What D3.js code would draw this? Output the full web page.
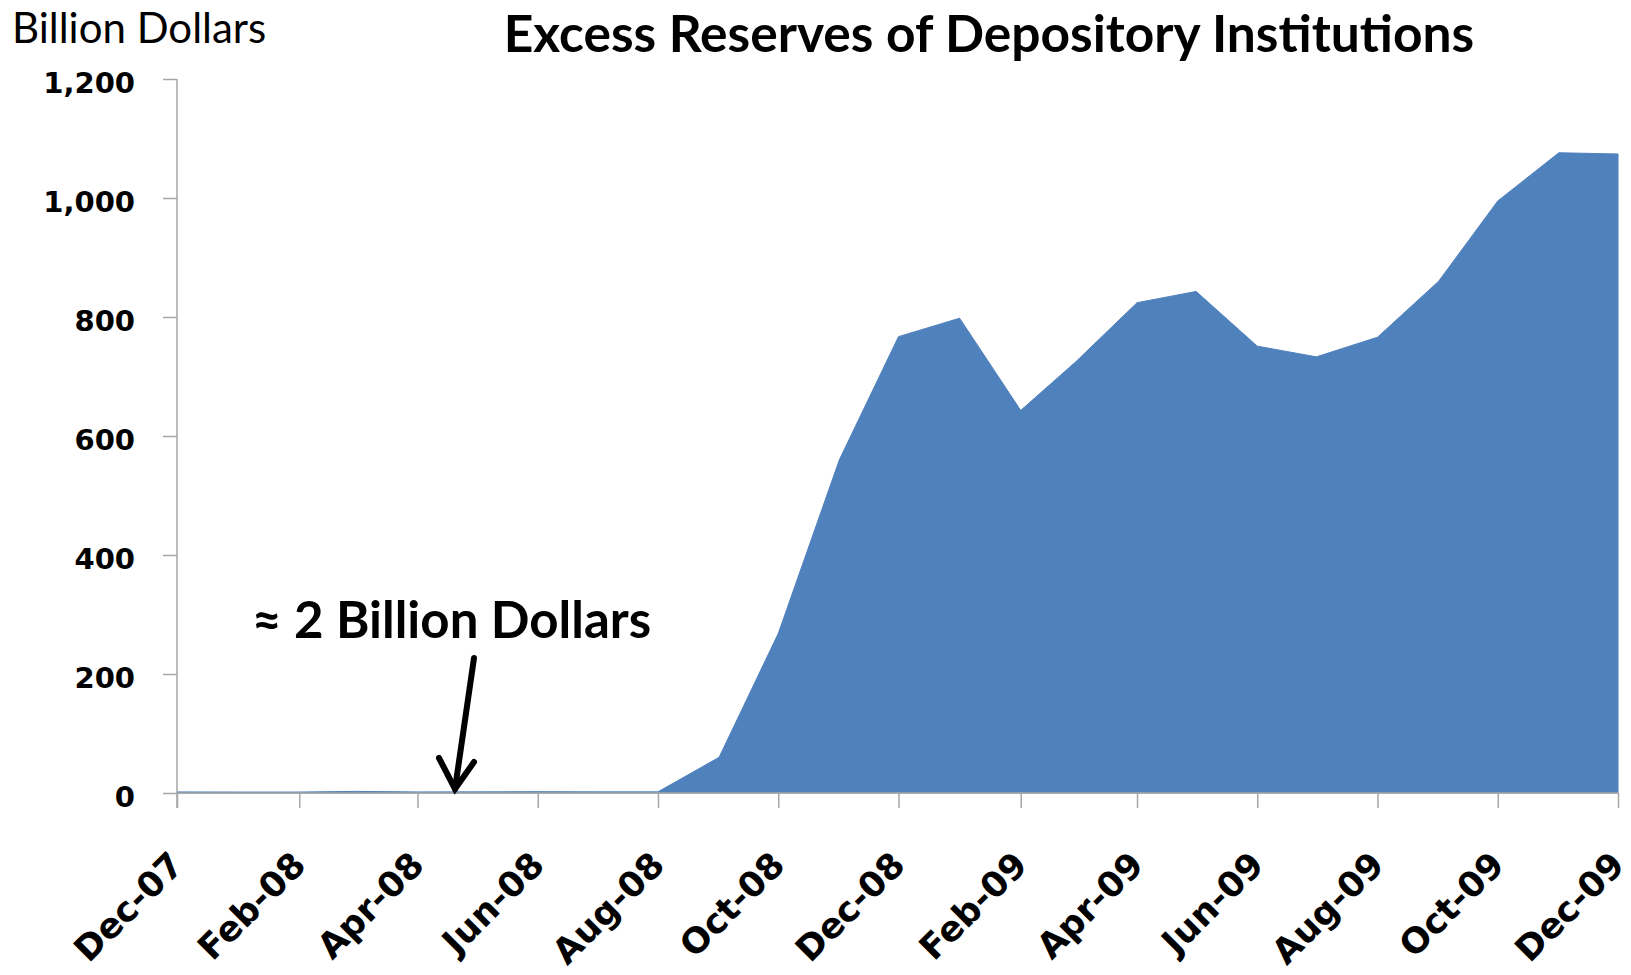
<!DOCTYPE html>
<html>
<head>
<meta charset="utf-8">
<script src="https://cdn.jsdelivr.net/npm/d3@7"></script>
<style>
  body { margin: 0; background: #fff; }
  svg text { font-family: Lato, "Open Sans", sans-serif; fill: #000; }
  .axis text { font-family: "DejaVu Sans", Verdana, sans-serif; font-weight: bold; }
</style>
</head>
<body>
<script>
var svgWidth = 1631;
var svgHeight = 975;

var margin = { top: 79, right: 13, bottom: 182, left: 177 };
var width = svgWidth - margin.left - margin.right;
var height = svgHeight - margin.top - margin.bottom;

// monthly observations, Dec-07 .. Dec-09
var months = ["2007-12","2008-01","2008-02","2008-03","2008-04","2008-05","2008-06","2008-07","2008-08",
  "2008-09","2008-10","2008-11","2008-12","2009-01","2009-02","2009-03","2009-04","2009-05","2009-06",
  "2009-07","2009-08","2009-09","2009-10","2009-11","2009-12"];
var reserves = [1.8, 1.6, 1.6, 2.7, 1.8, 1.9, 2.2, 1.9, 1.9,
  60, 268, 560, 767, 798, 643, 725, 824, 843, 751,
  733, 766, 860, 995, 1076, 1074];
var yTicks = [0, 200, 400, 600, 800, 1000, 1200];

var parseMonth = d3.timeParse("%Y-%m");
var data = months.map(function(m, i) {
  return { date: parseMonth(m), value: reserves[i] };
});
// a label every second month, starting at Dec-07
var xTicks = data.filter((d, i) => i % 2 === 0).map(d => d.date);

var svg = d3.select("body").append("svg")
  .attr("width", svgWidth)
  .attr("height", svgHeight);

var chartGroup = svg.append("g")
  .attr("transform", `translate(${margin.left}, ${margin.top})`);

var x = d3.scaleTime()
  .domain(d3.extent(data, d => d.date))
  .range([0, width]);
var y = d3.scaleLinear().domain([0, 1200]).range([height, 0]);

// area
var area = d3.area()
  .x(d => x(d.date))
  .y0(y(0))
  .y1(d => y(d.value));

chartGroup.append("path")
  .datum(data)
  .attr("d", area)
  .attr("fill", "#4f81bd")
  .attr("stroke", "#4f81bd")
  .attr("stroke-width", 1);

// axes
var leftAxis = d3.axisLeft(y)
  .tickValues(yTicks)
  .tickSize(14)
  .tickPadding(28)
  .tickFormat(d3.format(","));

var bottomAxis = d3.axisBottom(x)
  .tickValues(xTicks)
  .tickSize(15)
  .tickFormat(d3.timeFormat("%b-%y"));

var gy = chartGroup.append("g").attr("class", "axis").call(leftAxis);
gy.select(".domain").attr("stroke", "#a6a6a6").attr("stroke-width", 1.5)
  .attr("d", `M0,0V${height + 15}`);
gy.selectAll(".tick line").attr("stroke", "#a6a6a6").attr("stroke-width", 1.5);
gy.selectAll(".tick text")
  .style("font-size", "29px")
  .attr("dy", "0.46em");

var gx = chartGroup.append("g")
  .attr("class", "axis")
  .attr("transform", `translate(0, ${height})`)
  .call(bottomAxis);
gx.select(".domain").attr("stroke", "#a6a6a6").attr("stroke-width", 1.5)
  .attr("d", `M0,0H${width}`);
gx.selectAll(".tick line").attr("stroke", "#a6a6a6").attr("stroke-width", 1.5);
gx.selectAll(".tick text")
  .style("font-size", "35px")
  .attr("text-anchor", "end")
  .attr("dy", null)
  .attr("y", 0)
  .attr("transform", "translate(8, 74) rotate(-45)");

// titles
svg.append("text")
  .attr("x", 989).attr("y", 52)
  .attr("text-anchor", "middle")
  .style("font-size", "51.5px").style("font-weight", "bold")
  .text("Excess Reserves of Depository Institutions");

svg.append("text")
  .attr("x", 12).attr("y", 43)
  .style("font-size", "42px")
  .text("Billion Dollars");

// annotation
svg.append("text")
  .attr("x", 252).attr("y", 638)
  .style("font-size", "51px").style("font-weight", "bold")
  .text("≈ 2 Billion Dollars");

var ax0 = 474, ay0 = 658, ax1 = 455, ay1 = 789;
svg.append("line")
  .attr("x1", ax0).attr("y1", ay0).attr("x2", ax1).attr("y2", ay1)
  .attr("stroke", "#000").attr("stroke-width", 6).attr("stroke-linecap", "round");
svg.append("path")
  .attr("d", `M${ax1 - 16},${ay1 - 31} L${ax1},${ay1} L${ax1 + 19},${ay1 - 27}`)
  .attr("fill", "none").attr("stroke", "#000").attr("stroke-width", 6)
  .attr("stroke-linecap", "round").attr("stroke-linejoin", "miter");
</script>
</body>
</html>
